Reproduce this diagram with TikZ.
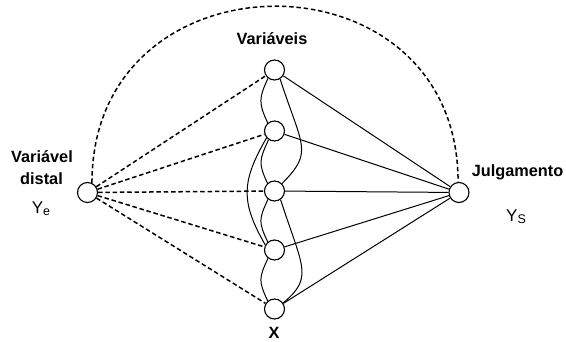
\documentclass[tikz,border=0pt]{standalone}
\usepackage{fontspec}
\setmainfont{Liberation Sans}
\begin{document}
\begin{tikzpicture}[x=1pt,y=1pt,
  nd/.style={circle,draw,line width=1.1pt,minimum size=20pt,inner sep=0pt,fill=white},
  solidln/.style={line width=1pt},
  dashln/.style={line width=1.5pt,dash pattern=on 4.5pt off 2.8pt},
  lbl/.style={font=\fontsize{16.3}{18}\selectfont\bfseries,anchor=base,inner sep=0pt},
  ylbl/.style={font=\fontsize{17}{18}\selectfont,anchor=base,inner sep=0pt}]
\useasboundingbox (0,0) rectangle (566,341);
% nodes
\node[nd] (L) at (87.5,148.5) {};
\node[nd] (R) at (459,148.5) {};
\node[nd] (M1) at (274.5,271) {};
\node[nd] (M2) at (274.5,210) {};
\node[nd] (M3) at (274.5,150) {};
\node[nd] (M4) at (274.5,91) {};
\node[nd] (M5) at (274.5,32) {};
% labels
\node[lbl] (tv) at (272,296) {Variáveis};
\node[lbl] (tx) at (274,2.5) {X};
\node[lbl] (td1) at (42,178.7) {Variável};
\node[lbl] (td2) at (41.5,156.7) {distal};
\node[ylbl] (tye) at (41,127.5) {Y\raisebox{-1.5pt}{\fontsize{12.5}{12.5}\selectfont e}};
\node[lbl] (tj) at (517.5,165) {Julgamento};
\node[ylbl] (tys) at (516,119.5) {Y\raisebox{-1.5pt}{\fontsize{12.5}{12.5}\selectfont S}};
% dashed from distal
\foreach \m in {M1,M2,M3,M4,M5} \draw[dashln] (L) -- (\m);
% solid to judgment
\foreach \m in {M1,M2,M3,M4,M5} \draw[solidln] (R) -- (\m);
% big dashed arc
\draw[dashln] (L.65) .. controls +(90:235) and +(90:235) .. (R.95);
% curves between variables
\draw[solidln] (M1.232) .. controls +(245:22) and +(115:22) .. (M2.130);
\draw[solidln] (M2.236) .. controls +(245:22) and +(115:22) .. (M3.132);
\draw[solidln] (M3.232) .. controls +(245:22) and +(115:22) .. (M4.130);
\draw[solidln] (M4.232) .. controls +(245:22) and +(115:22) .. (M5.130);
\draw[solidln] (M2.221) .. controls +(240:50) and +(120:50) .. (M4.151);
\draw[solidln] (M1.-58) .. controls +(-72:72) and +(45:45) .. (M3.45);
\draw[solidln] (M3.-55) .. controls +(-72:72) and +(40:40) .. (M5.35);
\end{tikzpicture}
\end{document}
